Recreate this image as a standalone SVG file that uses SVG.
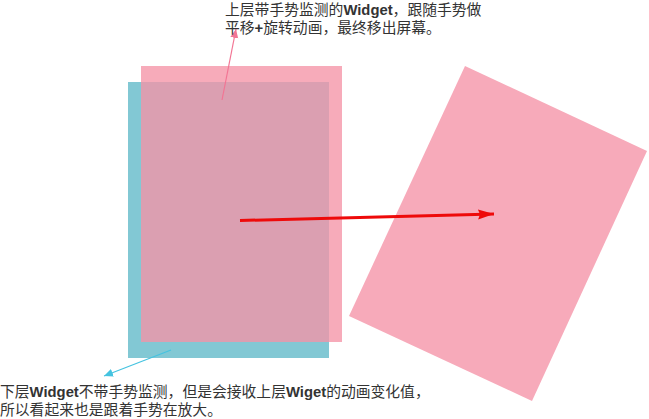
<svg xmlns="http://www.w3.org/2000/svg" width="649" height="419" viewBox="0 0 649 419">
<style>
.t{font-family:"Liberation Sans","Noto Sans CJK SC",sans-serif;font-size:14.8px;fill:#333}
.b{font-weight:bold}
</style>
<defs>
<marker id="mp" markerUnits="userSpaceOnUse" markerWidth="10" markerHeight="10" refX="9" refY="4" orient="auto"><path d="M0,0 L9,4 L0,8 Z" fill="#f27594"/></marker>
<marker id="mt" markerUnits="userSpaceOnUse" markerWidth="10" markerHeight="10" refX="9" refY="4" orient="auto"><path d="M0,0 L9,4 L0,8 Z" fill="#45c3e0"/></marker>
<marker id="mr" markerUnits="userSpaceOnUse" markerWidth="18" markerHeight="12" refX="16" refY="5" orient="auto"><path d="M0,0 L16,5 L0,10 L2,5 Z" fill="#ee0a0a"/></marker>
</defs>
<rect width="649" height="419" fill="#fff"/>
<g id="lower-widget"><rect x="128" y="82" width="201" height="276" fill="#82c8d4"/></g>
<g id="upper-widget"><rect x="141" y="66" width="201" height="276" fill="rgb(245,147,167)" fill-opacity="0.78"/></g>
<g id="moved-widget"><polygon points="465,66 647,151 532,401 349,316" fill="#f7aaba"/></g>
<g id="connectors">
<line x1="222" y1="100" x2="236" y2="29" stroke="#f27594" stroke-width="1.2" marker-end="url(#mp)"/>
<line x1="171" y1="350" x2="104" y2="376" stroke="#45c3e0" stroke-width="1.2" marker-end="url(#mt)"/>
<line x1="240" y1="220.5" x2="494" y2="214" stroke="#ee0a0a" stroke-width="3" marker-end="url(#mr)"/>
</g>
<g id="top-note">
<text class="t" x="225" y="15">上层带手势监测的<tspan class="b">Widget</tspan>，跟随手势做</text>
<text class="t" x="225" y="33">平移<tspan class="b">+</tspan>旋转动画，最终移出屏幕。</text>
</g>
<g id="bottom-note">
<text class="t" x="0" y="397">下层<tspan class="b">Widget</tspan>不带手势监测，但是会接收上层<tspan class="b">Wiget</tspan>的动画变化值，</text>
<text class="t" x="0" y="415">所以看起来也是跟着手势在放大。</text>
</g>
</svg>
